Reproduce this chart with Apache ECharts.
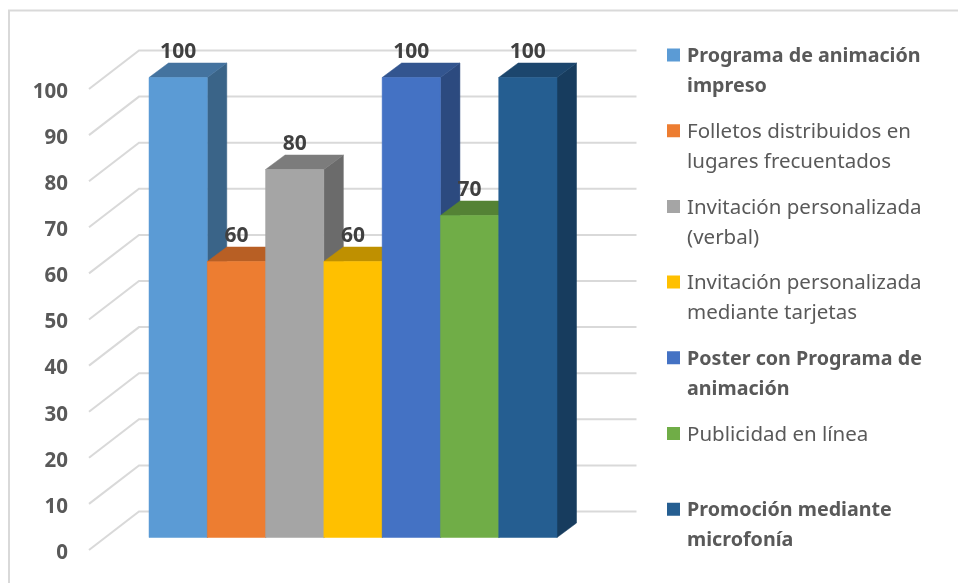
<!DOCTYPE html>
<html>
<head>
<meta charset="utf-8">
<style>html,body{margin:0;padding:0;background:#fff}#chart{width:958px;height:583px}</style>
<script src="https://cdn.jsdelivr.net/npm/echarts@6/dist/echarts.min.js"></script>
</head>
<body>
<div id="chart"></div>
<script>
// Medios de difusión: each category is one 3D column.
const categories = [
  'Programa de animación impreso',
  'Folletos distribuidos en lugares frecuentados',
  'Invitación personalizada (verbal)',
  'Invitación personalizada mediante tarjetas',
  'Poster con Programa de animación',
  'Publicidad en línea',
  'Promoción mediante microfonía'
];
const legendLines = [
  'Programa de animación\nimpreso',
  'Folletos distribuidos en\nlugares frecuentados',
  'Invitación personalizada\n(verbal)',
  'Invitación personalizada\nmediante tarjetas',
  'Poster con Programa de\nanimación',
  'Publicidad en línea\n ',
  'Promoción mediante\nmicrofonía'
];
const boldLegend = [true, false, false, false, true, false, true];
const values = [100, 60, 80, 60, 100, 70, 100];
const yTicks = [0, 10, 20, 30, 40, 50, 60, 70, 80, 90, 100];
const frontColors = ['#5b9bd5', '#ed7d31', '#a5a5a5', '#ffc000', '#4472c4', '#70ad47', '#255e91'];
const topColors = ['#44739f', '#b85f24', '#7c7c7c', '#bf9000', '#33558f', '#548235', '#1c466d'];
const sideColors = ['#3a6488', '#a35420', '#6b6b6b', '#a67d00', '#2c4a7f', '#49722e', '#173c5e'];

// Extrusion of a column, and of the floor below the side wall, in pixels.
const barDepth = [19.5, -14.5];
const wallDepth = [50, -38.5];

const chart = echarts.init(document.getElementById('chart'), null, { renderer: 'canvas' });

function renderColumn(index) {
  return function (params, api) {
    const top = api.coord([index, api.value(1)]);
    const base = api.coord([index, 0]);
    const w = api.size([1, 0])[0];
    const l = top[0] - w / 2;
    const r = top[0] + w / 2;
    const [dx, dy] = barDepth;
    const poly = (points, fill) => ({
      type: 'polygon',
      z2: index,
      shape: { points },
      style: { fill, stroke: fill, lineWidth: 0.5 }
    });
    return {
      type: 'group',
      children: [
        poly([[r, top[1]], [r + dx, top[1] + dy], [r + dx, base[1] + dy], [r, base[1]]], sideColors[index]),
        poly([[l, top[1]], [l + dx, top[1] + dy], [r + dx, top[1] + dy], [r, top[1]]], topColors[index]),
        poly([[l, top[1]], [r, top[1]], [r, base[1]], [l, base[1]]], frontColors[index]),
        {
          type: 'text',
          z2: 100,
          style: {
            x: top[0],
            y: top[1] - 25,
            text: String(api.value(1)),
            fill: '#404040',
            font: 'bold 21px "Noto Sans"',
            align: 'center',
            verticalAlign: 'middle'
          }
        }
      ]
    };
  };
}

const wallSeries = {
  type: 'custom',
  name: 'wall',
  xAxisIndex: 0,
  yAxisIndex: 0,
  silent: true,
  z: 1,
  data: yTicks.map(v => [0, v]),
  renderItem(params, api) {
    const a = api.coord([0, api.value(1)]);
    const b = api.coord([1, api.value(1)]);
    return {
      type: 'polyline',
      shape: { points: [a, [a[0] + wallDepth[0], a[1] + wallDepth[1]], [b[0], b[1] + wallDepth[1]]] },
      style: { stroke: '#d9d9d9', lineWidth: 2, fill: null }
    };
  }
};

const columnSeries = categories.map((name, i) => ({
  type: 'custom',
  name,
  xAxisIndex: 1,
  yAxisIndex: 1,
  z: 2,
  itemStyle: { color: frontColors[i] },
  data: [[i, values[i]]],
  renderItem: renderColumn(i)
}));

chart.setOption({
  animation: false,
  backgroundColor: '#fff',
  textStyle: { fontFamily: 'Noto Sans' },
  graphic: [{
    type: 'polyline',
    silent: true,
    shape: { points: [[9, 583], [9, 10.5], [958, 10.5]] },
    style: { stroke: '#d9d9d9', lineWidth: 2, fill: null }
  }],
  grid: [
    { left: 89, top: 89, width: 547.5, height: 461 },
    { left: 149, top: 77.5, width: 408, height: 460 }
  ],
  xAxis: [
    { type: 'value', gridIndex: 0, min: 0, max: 1, show: false },
    { type: 'category', gridIndex: 1, data: categories, show: false }
  ],
  yAxis: [
    {
      type: 'value', gridIndex: 0, min: 0, max: 100, interval: 10,
      axisLine: { show: false }, axisTick: { show: false }, splitLine: { show: false },
      axisLabel: {
        margin: 21,
        formatter: '{t|{value}}',
        rich: { t: { padding: [6, 0, 0, 0], color: '#595959', fontSize: 20.5, fontWeight: 'bold', fontFamily: 'Noto Sans' } }
      }
    },
    { type: 'value', gridIndex: 1, min: 0, max: 100, show: false, splitLine: { show: false } }
  ],
  legend: {
    left: 667,
    top: 41.5,
    orient: 'vertical',
    align: 'left',
    padding: 0,
    itemWidth: 15,
    itemHeight: 60,
    itemGap: 15.7,
    selectedMode: false,
    // The swatch sits beside the first text line; the zero-area diagonal keeps the full item height.
    icon: 'path://M0 7H13V20H0Z M0 0L15 60Z',
    formatter: name => legendLines[categories.indexOf(name)],
    textStyle: { fontFamily: 'Noto Sans', lineHeight: 30, color: '#595959' },
    data: categories.map((name, i) => ({
      name,
      textStyle: boldLegend[i] ? { fontWeight: 'bold', fontSize: 19.7 } : { fontWeight: 'normal', fontSize: 20.5 }
    }))
  },
  tooltip: { show: false },
  series: [wallSeries, ...columnSeries]
});
</script>
</body>
</html>
